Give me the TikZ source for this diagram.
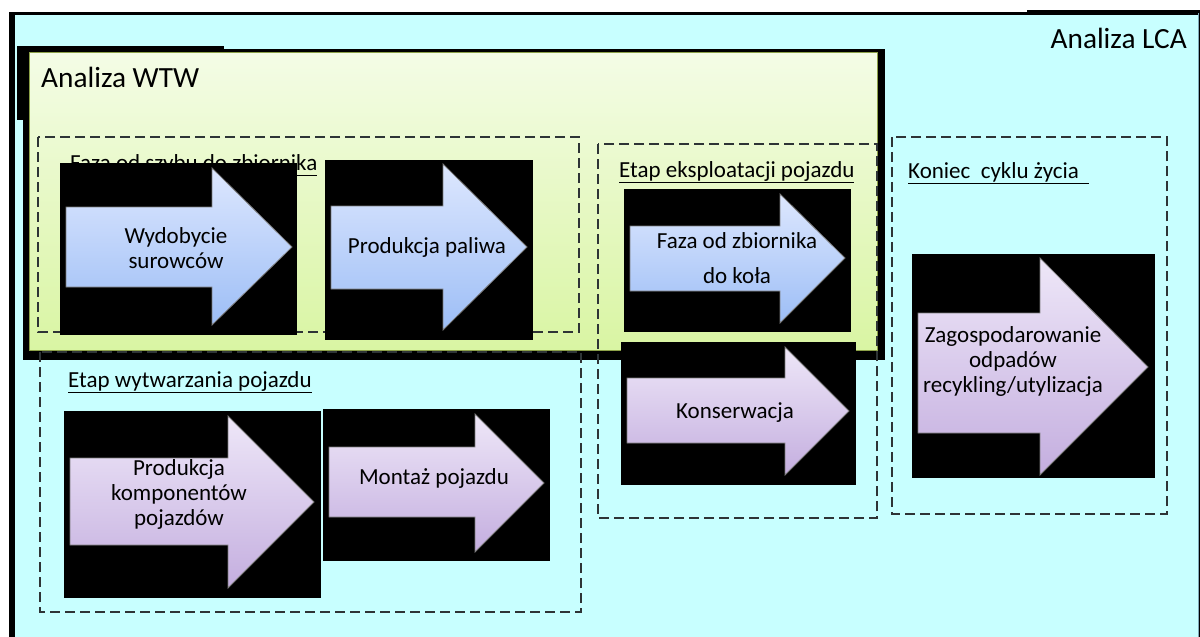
\documentclass[tikz,border=0pt]{standalone}
\usepackage{fontspec}
\setmainfont{Carlito}

\definecolor{lcacyan}{HTML}{C8FFFF}
\definecolor{lcaedge}{HTML}{7FA8B8}
\definecolor{wtwtop}{HTML}{F4FCE6}
\definecolor{wtwbot}{HTML}{D9F5A3}
\definecolor{wtwedge}{HTML}{8CA048}
\definecolor{phasegray}{HTML}{2E3436}
\definecolor{bluetop}{HTML}{DDE7FE}
\definecolor{bluebot}{HTML}{9DBEF6}
\definecolor{purpletop}{HTML}{EEE7F8}
\definecolor{purplebot}{HTML}{C4AEDF}
\definecolor{arrowline}{HTML}{7A7A7A}

\tikzset{
  blackbox/.style={fill=black},
  phasebox/.style={draw=phasegray,line width=1.2pt,dash pattern=on 10pt off 5pt},
  phaselabel/.style={anchor=base west,inner sep=0pt,font=\fontsize{23}{27}\selectfont},
  titlelabel/.style={anchor=base west,inner sep=0pt,font=\fontsize{29.3}{34}\selectfont},
  arrowtext/.style={align=center,inner sep=0pt,font=\fontsize{23}{25}\selectfont},
  bluearrow/.style={draw=arrowline,line width=0.8pt,top color=bluetop,bottom color=bluebot},
  purplearrow/.style={draw=arrowline,line width=0.8pt,top color=purpletop,bottom color=purplebot}
}

\begin{document}
\begin{tikzpicture}[x=1pt,y=-1pt]
\useasboundingbox (0,0) rectangle (1200,637);

% Analiza LCA
\fill[black] (9,12) rectangle (1200,637);
\fill[black] (1027,10) rectangle (1200,13);
\fill[lcacyan] (15,15) rectangle (1198,637);
\draw[lcaedge] (1198,13) -- (1198,637);
\node[titlelabel,anchor=base east] (lca) at (1187,48) {Analiza LCA};

% Analiza WTW
\fill[black] (23,49) rectangle (885,360);
\fill[black] (17,46) rectangle (224,120);
\shade[top color=wtwtop,bottom color=wtwbot,draw=wtwedge] (29,52) rectangle (877,350);
\node[titlelabel] (wtw) at (41,87) {Analiza WTW};

% etapy
\draw[phasebox] (38,137) rectangle (579,332);
\draw[phasebox] (40,352) rectangle (581,612);
\draw[phasebox] (598,144) rectangle (877,518);
\draw[phasebox] (892,137) rectangle (1167,514);
\node[phaselabel] (szyb) at (70,170) {\underline{Faza od szybu do zbiornika}};
\node[phaselabel] (wytw) at (68,387) {\underline{Etap wytwarzania pojazdu}};
\node[phaselabel] (ekspl) at (619,177) {\underline{Etap eksploatacji pojazdu}};
\node[phaselabel] (koniec) at (908,178) {\underline{Koniec\ \ cyklu życia\ \ }};

% Wydobycie surowcow
\fill[blackbox] (60,163) rectangle (297,335);
\draw[bluearrow] (66,207) -- (212,207) -- (212,168) -- (292,247) -- (212,325) -- (212,287) -- (66,287) -- cycle;
\node[arrowtext] (wydob) at (176,248) {Wydobycie\\surowców};

% Produkcja paliwa
\fill[blackbox] (325,160) rectangle (533,340);
\draw[bluearrow] (331,206) -- (443,206) -- (443,164) -- (527,247) -- (443,330) -- (443,289) -- (331,289) -- cycle;
\node[arrowtext] (paliwo) at (427,247) {Produkcja paliwa};

% Faza od zbiornika do kola
\fill[blackbox] (624,189) rectangle (851,332);
\draw[bluearrow] (630,226) -- (780,226) -- (780,194) -- (845,258) -- (780,323) -- (780,291) -- (630,291) -- cycle;
\node[arrowtext] (zbiornik) at (737,258) {Faza od zbiornika\\[10pt]do koła};

% Konserwacja
\fill[blackbox] (621,342) rectangle (856,485);
\draw[purplearrow] (627,378) -- (785,378) -- (785,347) -- (849,411) -- (785,475) -- (785,443) -- (627,443) -- cycle;
\node[arrowtext] (konserw) at (735,413) {Konserwacja};

% Produkcja komponentow
\fill[blackbox] (64,411) rectangle (321,598);
\draw[purplearrow] (70,458) -- (228,458) -- (228,416) -- (314,502) -- (228,588) -- (228,545) -- (70,545) -- cycle;
\node[arrowtext] (kompon) at (179,494) {Produkcja\\komponentów\\pojazdów};

% Montaz pojazdu
\fill[blackbox] (323,409) rectangle (550,561);
\draw[purplearrow] (329,447) -- (475,447) -- (475,414) -- (544,483) -- (475,552) -- (475,517) -- (329,517) -- cycle;
\node[arrowtext] (montaz) at (434,478) {Montaż pojazdu};

% Zagospodarowanie odpadow
\fill[blackbox] (912,254) rectangle (1155,478);
\draw[purplearrow] (918,313) -- (1040,313) -- (1040,258) -- (1148,367) -- (1040,475) -- (1040,433) -- (918,433) -- cycle;
\node[arrowtext] (odpady) at (1013,361) {Zagospodarowanie\\odpadów\\recykling/utylizacja};
\end{tikzpicture}
\end{document}
